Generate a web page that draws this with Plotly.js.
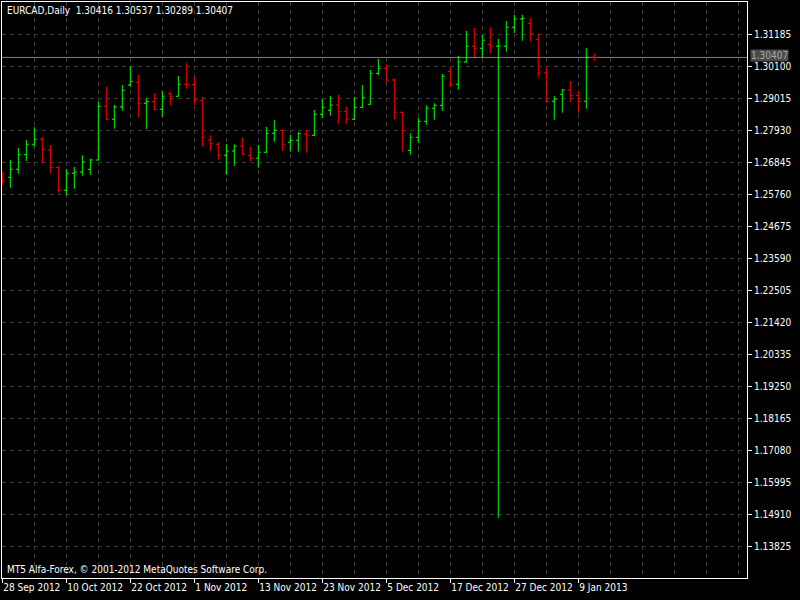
<!DOCTYPE html>
<html>
<head>
<meta charset="utf-8">
<script src="https://cdn.plot.ly/plotly-3.0.1.min.js"></script>
<style>html,body{margin:0;padding:0;background:#000;}#chart{width:800px;height:600px;}</style>
</head>
<body>
<div id="chart"></div>
<script>
const symbolTitle = "EURCAD,Daily  1.30416 1.30537 1.30289 1.30407";
const copyright = "MT5 Alfa-Forex, © 2001-2012 MetaQuotes Software Corp.";

const opens = [1.26319,1.26343,1.26614,1.27109,1.27462,1.27631,1.27269,1.26682,1.25902,1.26478,
1.26522,1.26614,1.26929,1.28750,1.28310,1.28727,1.29473,1.29564,1.28852,1.28906,
1.28649,1.29178,1.29090,1.29496,1.29483,1.28954,1.27608,1.27462,1.27089,1.27235,
1.27404,1.27089,1.26987,1.27191,1.27835,1.27937,1.27530,1.27597,1.27801,1.27767,
1.28479,1.28615,1.28794,1.28581,1.28310,1.28716,1.28818,1.29869,1.30039,1.29642,
1.28547,1.27258,1.27699,1.28242,1.28683,1.28784,1.29937,1.29496,1.30253,1.30785,
1.30717,1.30853,1.30785,1.30785,1.31429,1.31711,1.31565,1.31022,1.29880,1.28920,
1.29157,1.29303,1.29123,1.28920,1.30416];
const highs = [1.26522,1.26929,1.27336,1.27608,1.28038,1.27699,1.27438,1.26726,1.26624,1.26692,
1.27089,1.26974,1.28896,1.29415,1.28794,1.29473,1.30117,1.29812,1.29022,1.29201,
1.29259,1.29225,1.29778,1.30209,1.29744,1.29066,1.27767,1.27530,1.27472,1.27462,
1.27699,1.27370,1.27438,1.28048,1.28286,1.27947,1.27777,1.27879,1.27947,1.28625,
1.28998,1.29100,1.29134,1.28737,1.29066,1.29473,1.29981,1.30354,1.30175,1.29693,
1.28567,1.27835,1.28343,1.28784,1.28852,1.29846,1.30073,1.30456,1.31304,1.31406,
1.31168,1.31429,1.31033,1.31643,1.31846,1.31850,1.31745,1.31202,1.30049,1.29100,
1.29327,1.29608,1.29235,1.30717,1.30537];
const lows = [1.26082,1.25990,1.26465,1.26896,1.27381,1.26804,1.26465,1.25821,1.25719,1.25956,
1.26397,1.26431,1.26906,1.28276,1.27991,1.28601,1.29415,1.28364,1.27981,1.28615,
1.28398,1.28771,1.29066,1.29347,1.28794,1.27381,1.27224,1.26940,1.26431,1.26736,
1.27089,1.26896,1.26668,1.27167,1.27550,1.27224,1.27211,1.27211,1.27177,1.27743,
1.28364,1.28432,1.28160,1.28160,1.28286,1.28693,1.28794,1.29802,1.29564,1.28303,
1.27211,1.27109,1.27516,1.28126,1.28296,1.28601,1.29405,1.29313,1.30229,1.30422,
1.30422,1.30558,1.14800,1.30602,1.31236,1.30975,1.30941,1.29754,1.28873,1.28296,
1.28533,1.28906,1.28533,1.28669,1.30289];
const closes = [1.26217,1.26614,1.27109,1.27462,1.27631,1.27292,1.26682,1.25902,1.26478,1.26522,
1.26862,1.26929,1.28750,1.28310,1.28727,1.29293,1.29598,1.28852,1.28906,1.28649,
1.29090,1.29090,1.29496,1.29483,1.28954,1.27699,1.27482,1.27089,1.27235,1.27404,
1.27123,1.26987,1.27191,1.27835,1.27937,1.27462,1.27597,1.27821,1.27767,1.28479,
1.28716,1.28794,1.28567,1.28310,1.28716,1.29056,1.29869,1.30039,1.29642,1.28550,
1.27923,1.27699,1.28242,1.28683,1.28784,1.29768,1.29496,1.30253,1.30785,1.30717,
1.30988,1.30785,1.30795,1.31429,1.31711,1.31734,1.31226,1.29880,1.28920,1.28988,
1.29303,1.29123,1.28920,1.30412,1.30407];

const barIndex = opens.map((_, i) => i);

const dateTickIndex = [0, 8, 16, 24, 32, 40, 48, 56, 64, 72];
const dateTickText = ["28 Sep 2012","10 Oct 2012","22 Oct 2012","1 Nov 2012","13 Nov 2012",
  "23 Nov 2012","5 Dec 2012","17 Dec 2012","27 Dec 2012","9 Jan 2013"];

const priceTicks = [1.31185,1.30100,1.29015,1.27930,1.26845,1.25760,1.24675,1.23590,1.22505,
  1.21420,1.20335,1.19250,1.18165,1.17080,1.15995,1.14910,1.13825];
const priceTickText = priceTicks.map(v => v.toFixed(5));

const lastPrice = closes[closes.length - 1];

const FONT = "Tahoma, 'DejaVu Sans Condensed', 'Liberation Sans', sans-serif";
const GRID = "#3c3c3c";

const trace = {
  type: "ohlc",
  x: barIndex,
  open: opens, high: highs, low: lows, close: closes,
  increasing: { line: { color: "#00ff00", width: 1 } },
  decreasing: { line: { color: "#ff0000", width: 1 } },
  tickwidth: 0.3,
  hoverinfo: "skip",
  showlegend: false
};

const layout = {
  width: 800, height: 600,
  paper_bgcolor: "#000000", plot_bgcolor: "#000000",
  margin: { l: 2, r: 53, t: 2, b: 22 },
  font: { family: FONT, size: 10, color: "#ffffff" },
  showlegend: false,
  xaxis: {
    range: [-0.04, 93.09],
    tickmode: "array", tickvals: dateTickIndex, ticktext: dateTickText,
    tickangle: 0, automargin: false,
    ticks: "outside", ticklen: 4, tickcolor: "#ffffff",
    ticklabelposition: "outside right",
    showgrid: true, gridcolor: GRID, griddash: "4px,4px", gridwidth: 1,
    minor: { tickmode: "linear", tick0: 0, dtick: 4, showgrid: true, gridcolor: GRID, griddash: "4px,4px", gridwidth: 1, ticks: "" },
    showline: true, mirror: true, linecolor: "#ffffff", linewidth: 1,
    zeroline: false, rangeslider: { visible: false }, fixedrange: true,
    tickfont: { family: FONT, size: 10, color: "#ffffff" }
  },
  yaxis: {
    side: "right",
    range: [1.12755, 1.32287],
    tickmode: "array", tickvals: priceTicks, ticktext: priceTickText,
    ticks: "outside", ticklen: 4, tickcolor: "#ffffff",
    automargin: false,
    showgrid: true, gridcolor: GRID, griddash: "4px,4px", gridwidth: 1,
    showline: true, mirror: true, linecolor: "#ffffff", linewidth: 1,
    zeroline: false, fixedrange: true,
    tickfont: { family: FONT, size: 10, color: "#ffffff" }
  },
  shapes: [{
    type: "line", xref: "paper", x0: 0, x1: 1, yref: "y", y0: lastPrice, y1: lastPrice,
    line: { color: "#808080", width: 1 }, layer: "below"
  }],
  annotations: [
    { xref: "paper", yref: "paper", x: 0, y: 1, xanchor: "left", yanchor: "top",
      xshift: 3, yshift: -1, text: symbolTitle, showarrow: false,
      font: { family: FONT, size: 10, color: "#ffffff" } },
    { xref: "paper", yref: "paper", x: 0, y: 0, xanchor: "left", yanchor: "bottom",
      xshift: 3, yshift: 1, text: copyright, showarrow: false,
      font: { family: FONT, size: 10, color: "#ffffff" } },
    { xref: "paper", yref: "y", x: 1, y: lastPrice, xanchor: "left", yanchor: "bottom",
      xshift: 3, yshift: -5, height: 11, text: lastPrice.toFixed(5), showarrow: false,
      bgcolor: "#4a4a4a", borderpad: 0,
      font: { family: FONT, size: 10, color: "#a8a8a8" } }
  ]
};

Plotly.newPlot("chart", [trace], layout, { displayModeBar: false, staticPlot: true });
</script>
</body>
</html>
